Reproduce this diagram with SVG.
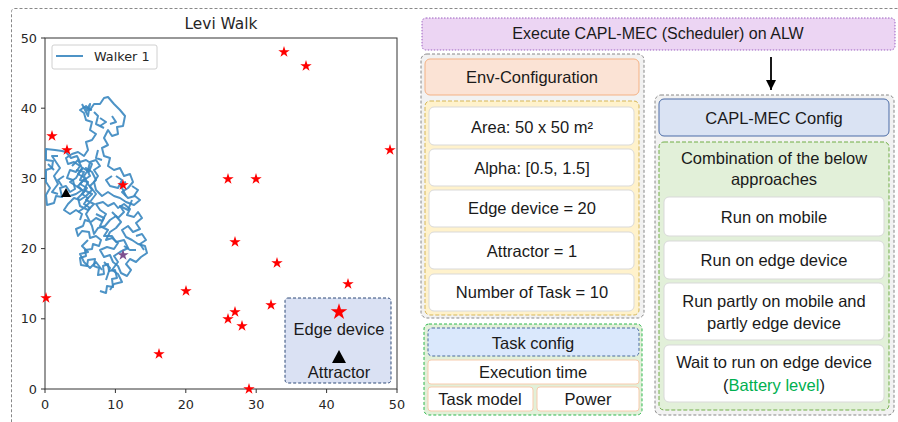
<svg xmlns="http://www.w3.org/2000/svg" width="898" height="422" viewBox="0 0 898 422">
<defs>
<style>
.t{font-family:"Liberation Sans",Arial,sans-serif;font-size:16.5px;fill:#1a1a1a;text-anchor:middle}
.m{font-family:"DejaVu Sans",sans-serif;font-size:12.8px;fill:#262626}
.box{fill:#fff;stroke:#d9d9d9;stroke-width:1}
.tbox{fill:#fff;stroke:#f8cbad;stroke-width:1}
.ax{stroke:#333;stroke-width:1;fill:none}
.walk{fill:none;stroke:#3a87c0;stroke-width:2;stroke-linejoin:round;stroke-opacity:0.9}
</style>
<path id="star" d="M0,-6 L1.35,-1.85 L5.71,-1.85 L2.18,0.71 L3.53,4.85 L0,2.29 L-3.53,4.85 L-2.18,0.71 L-5.71,-1.85 L-1.35,-1.85 Z"/>
<marker id="ah" viewBox="0 0 10 10" refX="10" refY="5" markerWidth="10" markerHeight="10" markerUnits="userSpaceOnUse" orient="auto">
<path d="M0,0 L10,5 L0,10 Z" fill="#000"/>
</marker>
</defs>
<rect x="11.5" y="8.5" width="893" height="420" rx="3" fill="#fff" stroke="#888" stroke-dasharray="3,2"/>

<g id="plot">
<text class="m" x="221" y="29" text-anchor="middle" style="font-size:15.4px">Levi Walk</text>
<rect class="ax" x="45" y="38" width="352" height="351" fill="#fff"/>
<g class="ax">
<path d="M41,38H45M41,108.2H45M41,178.4H45M41,248.6H45M41,318.8H45M41,389H45"/>
<path d="M45,389V393M115.4,389V393M185.8,389V393M256.2,389V393M326.6,389V393M397,389V393"/>
</g>
<g class="m" text-anchor="end">
<text x="37" y="42.5">50</text><text x="37" y="112.7">40</text><text x="37" y="182.9">30</text><text x="37" y="253.1">20</text><text x="37" y="323.3">10</text><text x="37" y="393.5">0</text>
</g>
<g class="m" text-anchor="middle">
<text x="45" y="409">0</text><text x="115.4" y="409">10</text><text x="185.8" y="409">20</text><text x="256.2" y="409">30</text><text x="326.6" y="409">40</text><text x="397" y="409">50</text>
</g>
<g id="walk">
<path class="walk" d="M100,291 L106,293 L107,286 L113,287 L112,279 L117,278 L115,270 L109,271 L108,264 L103,266 L104,274 L98,275 L99,268 L94,266 L95,259 L88,260 L87,266 L81,265 L80,258 L86,256 L85,250 L92,249 L93,244 L99,246 L101,240 L96,236 L90,238 L89,232 L82,231 L78,236 L76,229 L83,226 L85,220 L91,222 L96,218 L102,221 L106,214 L100,210 L96,204 L103,202 L108,206 L114,203 L118,208 L124,204 L130,209 L127,215 L134,217 L138,212 L142,218 L136,223 L140,229 L133,232 L128,226 L122,230 L126,237 L132,240 L138,244 L145,246 L147,253 L141,257 L136,262 L130,259 L126,264 L131,270 L127,276 L121,273 L118,266 L113,262 L110,255 L104,257 L100,250 L107,247 L114,249 L118,243 L112,238 L106,240 L110,232 L116,228 L121,222 L116,216 L110,220 L105,226 L98,228 L94,234 L92,226 L86,214 L90,208 L84,204 L88,198 L82,194 L87,188 L80,184 L85,178 L78,174 L83,168 L89,172 L92,164 L86,160 L80,162 L77,156 L71,158 L66,152 L62,151 L55,150 L46,149 L46,160 L53,161 L52,168 L46,170 L46,182 L50,188 L46,195 L47,205 L54,203 L56,196 L62,197 L60,188 L66,186 L70,192 L75,189 L73,180 L67,178 L70,170 L76,172 L80,166 L74,162 L68,164 L66,158 L72,154 L78,152 L84,156 L88,150 L86,142 L92,140 L96,134 L90,130 L92,122 L86,120 L84,113 L80,110 L86,106 L90,110 L94,104 L100,104 L104,98 L108,97 L114,104 L120,110 L125,116 L123,126 L117,127 L118,134 L112,136 L108,130 L104,138 L108,145 L102,148 L104,156 L110,158 L108,166 L114,170 L120,168 L124,176 L130,174 L133,182 L128,188 L122,192 L128,198 L135,196 L140,200 L134,205 L126,202 L120,198 L114,196 L108,192 L102,196 L96,190 L94,182 L98,176 L94,170 L100,166 L96,160 L90,162 L88,170 L84,176 L88,184 L92,190 L86,196 L80,200 L74,198 L68,204 L64,210 L70,214 L76,210 L82,214 L80,220"/>
<path class="walk" d="M76,170 L84,172 L80,180 L88,182 L84,190 L92,194 L86,200 L94,204 L88,210 L80,206 L78,198 L84,192 L78,186 L84,180 L90,176 L86,168 L92,172 L96,180 L90,186 L96,194 L90,202 L84,208 L78,212 M82,104 L86,112 L90,104 L88,116 L84,108 L92,110 M112,212 L118,218 L124,212 L120,206 L128,210 L132,200 M104,262 L110,268 L106,280 M124,246 L130,250 L136,250 M64,176 L58,180 L62,186 M100,118 L106,122 L100,126"/>
<path class="walk" d="M96,214 L104,218 L100,226 L108,230 L104,236 L112,236 L116,242 L124,240 L128,248 L120,252 L114,256 L118,262 L112,270 L118,274 L122,282 L114,284 L110,290 M88,240 L82,246 L88,252 L80,254 L84,262 L90,268 L96,262 L102,270 M136,236 L142,234 L146,240 L140,244 L144,250 M58,156 L52,156 L56,162 L60,168 L54,176 L58,184 L52,192 L58,194 M48,164 L54,170 M72,166 L78,160 L82,168 L76,178 L70,182 L76,186 L82,190 L76,194 L70,196 M132,186 L138,190 L134,196 M126,196 L120,184 L126,182 M116,176 L122,180 L118,188 L110,186 L106,180 L112,176 M98,150 L96,158 L102,160 M94,112 L98,116 L96,124 L104,128 M112,116 L116,122 L110,124"/>
</g>
<g id="stars" fill="#ff0000">
<use href="#star" x="284" y="52"/><use href="#star" x="306" y="66"/><use href="#star" x="52" y="136"/><use href="#star" x="67" y="150"/><use href="#star" x="390" y="150"/><use href="#star" x="228" y="179"/><use href="#star" x="256" y="179"/><use href="#star" x="123" y="185"/><use href="#star" x="235" y="242"/><use href="#star" x="277" y="263"/><use href="#star" x="348" y="284"/><use href="#star" x="46" y="298"/><use href="#star" x="186" y="291"/><use href="#star" x="271" y="305"/><use href="#star" x="235" y="312"/><use href="#star" x="228" y="319"/><use href="#star" x="242" y="326"/><use href="#star" x="159" y="354"/><use href="#star" x="249" y="389"/>
<use href="#star" x="123" y="255" fill="#7e4f8f"/>
</g>
<path d="M66,188 L71,197 L61,197 Z" fill="#000"/>
<g id="legend">
<rect x="52" y="45" width="105" height="24" rx="2" fill="#fff" stroke="#d0d0d0" stroke-width="1"/>
<line x1="56" y1="56" x2="83" y2="56" stroke="#3a87c0" stroke-width="1.8"/>
<text class="m" x="94" y="61">Walker 1</text>
</g>
<g id="key">
<rect x="285" y="298" width="106" height="85" rx="3" fill="#dae1f3" stroke="#2f4a78" stroke-dasharray="3,2"/>
<use href="#star" fill="#ff0000" transform="translate(339,312) scale(1.45)"/>
<text class="t" x="339" y="335">Edge device</text>
<path d="M339,350 L346,363 L332,363 Z" fill="#000"/>
<text class="t" x="339" y="378">Attractor</text>
</g>
</g>

<g id="execute">
<rect x="422" y="18" width="473" height="32" rx="4" fill="#ecd5f3" stroke="#9b5fc0" stroke-dasharray="1.5,1.5"/>
<text class="t" x="658" y="39" style="font-size:16px">Execute CAPL-MEC (Scheduler) on ALW</text>
</g>

<g id="connectors">
<line x1="771" y1="57" x2="771" y2="90" stroke="#000" stroke-width="1.8" marker-end="url(#ah)"/>
</g>

<g id="env">
<rect x="421" y="54" width="223" height="264" rx="6" fill="#f2f2f2" stroke="#888" stroke-dasharray="3,2"/>
<rect x="425" y="59" width="214" height="36" rx="5" fill="#fbe3d5" stroke="#f4b183"/>
<text class="t" x="532" y="83">Env-Configuration</text>
<rect x="425" y="101" width="214" height="214" rx="5" fill="#fff2cc" stroke="#d6b656" stroke-dasharray="4,2"/>
<g id="area"><rect class="box" x="429" y="107" width="205" height="38" rx="5"/><text class="t" x="532" y="133">Area: 50 x 50 m²</text></g>
<g id="alpha"><rect class="box" x="429" y="149" width="205" height="37" rx="5"/><text class="t" x="532" y="174">Alpha: [0.5, 1.5]</text></g>
<g id="edge"><rect class="box" x="429" y="190" width="205" height="37" rx="5"/><text class="t" x="532" y="214">Edge device = 20</text></g>
<g id="attr"><rect class="box" x="429" y="232" width="205" height="37" rx="5"/><text class="t" x="532" y="257">Attractor = 1</text></g>
<g id="ntask"><rect class="box" x="429" y="274" width="205" height="37" rx="5"/><text class="t" x="532" y="298">Number of Task = 10</text></g>
</g>

<g id="task">
<rect x="424" y="324" width="218" height="91" rx="5" fill="#e2f0d9" stroke="#2db84d" stroke-dasharray="3,2"/>
<rect x="428" y="328" width="211" height="28" rx="4" fill="#dae8fc" stroke="#4a6a9c" stroke-dasharray="3,2"/>
<text class="t" x="533" y="349">Task config</text>
<rect class="tbox" x="428" y="360" width="211" height="24" rx="3"/>
<text class="t" x="533" y="378">Execution time</text>
<rect class="tbox" x="428" y="387" width="105" height="24" rx="3"/>
<text class="t" x="480" y="405">Task model</text>
<rect class="tbox" x="537" y="387" width="102" height="24" rx="3"/>
<text class="t" x="588" y="405">Power</text>
</g>

<g id="capl">
<rect x="655" y="95" width="239" height="320" rx="6" fill="#f2f2f2" stroke="#888" stroke-dasharray="3,2"/>
<rect x="659" y="99" width="230" height="37" rx="5" fill="#dae3f3" stroke="#4a6ba6"/>
<text class="t" x="774" y="124">CAPL-MEC Config</text>
<rect x="659" y="142" width="230" height="268" rx="5" fill="#e2f0d9" stroke="#70ad47" stroke-dasharray="4,2"/>
<text class="t" x="774" y="164">Combination of the below</text>
<text class="t" x="774" y="185">approaches</text>
<g id="r1"><rect class="box" x="664" y="197" width="220" height="39" rx="5"/><text class="t" x="774" y="223">Run on mobile</text></g>
<g id="r2"><rect class="box" x="664" y="241" width="220" height="38" rx="5"/><text class="t" x="774" y="266">Run on edge device</text></g>
<g id="r3"><rect class="box" x="664" y="283" width="220" height="57" rx="5"/><text class="t" x="774" y="307">Run partly on mobile and</text><text class="t" x="774" y="329">partly edge device</text></g>
<g id="r4"><rect class="box" x="664" y="345" width="220" height="57" rx="5"/><text class="t" x="774" y="368">Wait to run on edge device</text><text class="t" x="774" y="391">(<tspan fill="#00b050">Battery level</tspan>)</text></g>
</g>
</svg>
